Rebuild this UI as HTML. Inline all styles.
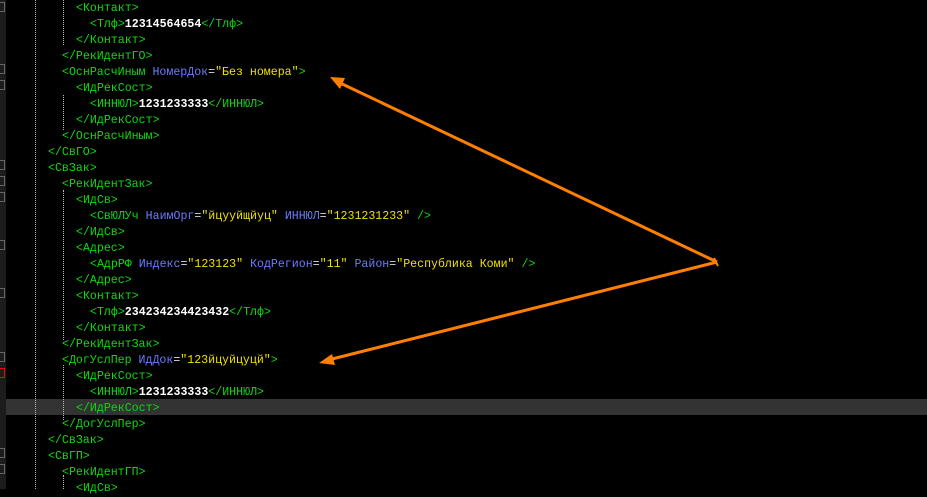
<!DOCTYPE html><html><head><meta charset="utf-8"><style>
body{margin:0;width:927px;height:489px;background:#000;overflow:hidden;position:relative;font-family:"Liberation Mono","DejaVu Sans Mono",monospace;font-size:11.6px}
.g{position:absolute;left:0;top:0;width:6px;height:489px;background:#1c1c1c}
.d{position:absolute;top:0;height:489px;border-left:1px dotted #bbb}
.l{position:absolute;height:16px;line-height:16px;white-space:pre;color:#10d810;margin-top:2px}
.a{color:#6b7bff}.v{color:#f0e000}.e{color:#ddd}.t{color:#fff;font-weight:bold}
.h{position:absolute;left:6px;width:921px;top:399px;height:16px;background:#333}
.m{position:absolute;left:0;width:5px;height:10px;border:1px solid #666;border-left:none;box-sizing:border-box}
</style></head><body>
<div class="g"></div>
<div class="m" style="top:2px"></div><div class="m" style="top:64px"></div><div class="m" style="top:80px"></div>
<div class="m" style="top:160px"></div><div class="m" style="top:176px"></div><div class="m" style="top:192px"></div>
<div class="m" style="top:240px"></div><div class="m" style="top:288px"></div><div class="m" style="top:352px"></div>
<div class="m" style="top:368px;border-color:#f00"></div><div class="m" style="top:448px"></div><div class="m" style="top:464px"></div>
<div class="h"></div>
<div class="d" style="left:35px"></div>
<div class="d" style="left:63px;top:0;height:45px"></div>
<div class="d" style="left:63px;top:95px;height:35px"></div>
<div class="d" style="left:63px;top:190px;height:150px"></div>
<div class="d" style="left:63px;top:365px;height:55px"></div>
<div class="d" style="left:63px;top:475px;height:14px"></div>
<div class="l" style="top:-1px;left:76px">&lt;Контакт&gt;</div>
<div class="l" style="top:15px;left:90px">&lt;Тлф&gt;<span class="t">12314564654</span>&lt;/Тлф&gt;</div>
<div class="l" style="top:31px;left:76px">&lt;/Контакт&gt;</div>
<div class="l" style="top:47px;left:62px">&lt;/РекИдентГО&gt;</div>
<div class="l" style="top:63px;left:62px">&lt;ОснРасчИным <span class="a">НомерДок</span><span class="e">=</span><span class="v">"Без номера"</span>&gt;</div>
<div class="l" style="top:79px;left:76px">&lt;ИдРекСост&gt;</div>
<div class="l" style="top:95px;left:90px">&lt;ИННЮЛ&gt;<span class="t">1231233333</span>&lt;/ИННЮЛ&gt;</div>
<div class="l" style="top:111px;left:76px">&lt;/ИдРекСост&gt;</div>
<div class="l" style="top:127px;left:62px">&lt;/ОснРасчИным&gt;</div>
<div class="l" style="top:143px;left:48px">&lt;/СвГО&gt;</div>
<div class="l" style="top:159px;left:48px">&lt;СвЗак&gt;</div>
<div class="l" style="top:175px;left:62px">&lt;РекИдентЗак&gt;</div>
<div class="l" style="top:191px;left:76px">&lt;ИдСв&gt;</div>
<div class="l" style="top:207px;left:90px">&lt;СвЮЛУч <span class="a">НаимОрг</span><span class="e">=</span><span class="v">"йцууйщйуц"</span> <span class="a">ИННЮЛ</span><span class="e">=</span><span class="v">"1231231233"</span> /&gt;</div>
<div class="l" style="top:223px;left:76px">&lt;/ИдСв&gt;</div>
<div class="l" style="top:239px;left:76px">&lt;Адрес&gt;</div>
<div class="l" style="top:255px;left:90px">&lt;АдрРФ <span class="a">Индекс</span><span class="e">=</span><span class="v">"123123"</span> <span class="a">КодРегион</span><span class="e">=</span><span class="v">"11"</span> <span class="a">Район</span><span class="e">=</span><span class="v">"Республика Коми"</span> /&gt;</div>
<div class="l" style="top:271px;left:76px">&lt;/Адрес&gt;</div>
<div class="l" style="top:287px;left:76px">&lt;Контакт&gt;</div>
<div class="l" style="top:303px;left:90px">&lt;Тлф&gt;<span class="t">234234234423432</span>&lt;/Тлф&gt;</div>
<div class="l" style="top:319px;left:76px">&lt;/Контакт&gt;</div>
<div class="l" style="top:335px;left:62px">&lt;/РекИдентЗак&gt;</div>
<div class="l" style="top:351px;left:62px">&lt;ДогУслПер <span class="a">ИдДок</span><span class="e">=</span><span class="v">"123йцуйцуцй"</span>&gt;</div>
<div class="l" style="top:367px;left:76px">&lt;ИдРекСост&gt;</div>
<div class="l" style="top:383px;left:90px">&lt;ИННЮЛ&gt;<span class="t">1231233333</span>&lt;/ИННЮЛ&gt;</div>
<div class="l" style="top:399px;left:76px">&lt;/ИдРекСост&gt;</div>
<div class="l" style="top:415px;left:62px">&lt;/ДогУслПер&gt;</div>
<div class="l" style="top:431px;left:48px">&lt;/СвЗак&gt;</div>
<div class="l" style="top:447px;left:48px">&lt;СвГП&gt;</div>
<div class="l" style="top:463px;left:62px">&lt;РекИдентГП&gt;</div>
<div class="l" style="top:479px;left:76px">&lt;ИдСв&gt;</div>
<svg width="927" height="489" style="position:absolute;left:0;top:0">
<g stroke="#ff7f00" stroke-width="3" fill="#ff7f00">
<line x1="717" y1="262" x2="338" y2="82"/>
<line x1="717" y1="262" x2="328" y2="360"/>
<polygon points="330,77 345,78 340,89" stroke="none"/>
<polygon points="319,363 332,354 335,365" stroke="none"/>
<line x1="714" y1="258" x2="718" y2="266" stroke-width="2"/>
</g></svg>
</body></html>
